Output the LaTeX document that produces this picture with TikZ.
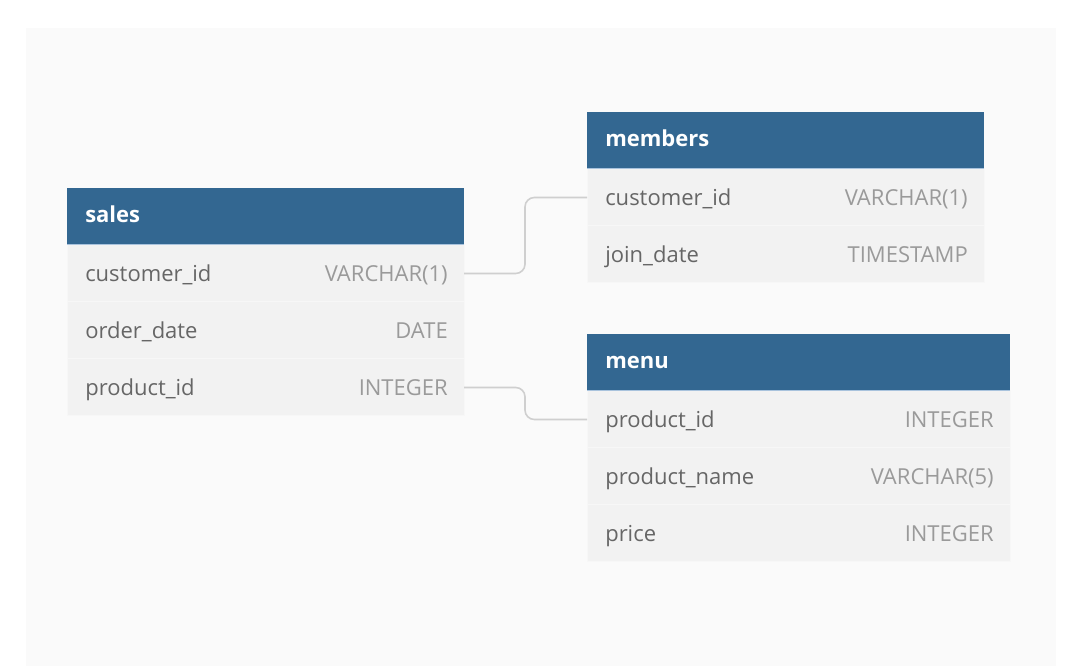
\documentclass[tikz,border=0pt]{standalone}
\usepackage{fontspec}
\setmainfont{Open Sans}
\usetikzlibrary{positioning}
\definecolor{cHead}{HTML}{336791}
\definecolor{cHeadLine}{HTML}{A9C3DD}
\definecolor{cRow}{HTML}{F2F2F2}
\definecolor{cRowLine}{HTML}{F7F7F7}
\definecolor{cCanvas}{HTML}{FAFAFA}
\definecolor{cName}{HTML}{666666}
\definecolor{cType}{HTML}{9A9A9A}
\definecolor{cLink}{HTML}{CFCFCF}

\begin{document}
\begin{tikzpicture}[
  x=0.75pt, y=-0.75pt,
  font=\fontsize{16.5}{20}\selectfont,
  thead/.style={fill=cHead, minimum width=#1, minimum height=42.75pt,
                inner sep=0pt, outer sep=0pt, anchor=north west},
  trow/.style={fill=cRow, draw=cRowLine, line width=0.75pt,
               minimum width=#1, minimum height=42.75pt,
               inner sep=0pt, outer sep=0pt},
  tname/.style={anchor=mid west, xshift=13.5pt, yshift=-1.8pt,
                inner sep=0pt, text=white,
                font=\fontsize{16.5}{20}\selectfont\bfseries},
  fname/.style={anchor=base west, xshift=13.5pt, yshift=-6.2pt,
                inner sep=0pt, text=cName},
  ftype/.style={anchor=base east, xshift=-12pt, yshift=-6.2pt,
                inner sep=0pt, text=cType},
  hline/.style={draw=cHeadLine, line width=0.75pt},
  link/.style={draw=cLink, line width=1.2pt, rounded corners=7pt},
]

% ---- Canvas ----
\useasboundingbox (0,0) rectangle (1079,666);
\fill[cCanvas] (26,28) rectangle (1056,666);

% ---- sales ----
\node[thead=297.75pt] (sales) at (67,188) {};
\node[tname] at (sales.west) {sales};
\node[trow=297.75pt, below=0pt of sales] (sales1) {};
\node[trow=297.75pt, below=0pt of sales1] (sales2) {};
\node[trow=297.75pt, below=0pt of sales2] (sales3) {};
\draw[hline] (sales.south west) -- (sales.south east);

\node[fname] at (sales1.west) {customer\_id};
\node[ftype] at (sales1.east) {VARCHAR(1)};
\node[fname] at (sales2.west) {order\_date};
\node[ftype] at (sales2.east) {DATE};
\node[fname] at (sales3.west) {product\_id};
\node[ftype] at (sales3.east) {INTEGER};

% ---- members ----
\node[thead=297.75pt] (members) at (587,112) {};
\node[tname] at (members.west) {members};
\node[trow=297.75pt, below=0pt of members] (members1) {};
\node[trow=297.75pt, below=0pt of members1] (members2) {};
\draw[hline] (members.south west) -- (members.south east);

\node[fname] at (members1.west) {customer\_id};
\node[ftype] at (members1.east) {VARCHAR(1)};
\node[fname] at (members2.west) {join\_date};
\node[ftype] at (members2.east) {TIMESTAMP};

% ---- menu ----
\node[thead=317.25pt] (menu) at (587,334) {};
\node[tname] at (menu.west) {menu};
\node[trow=317.25pt, below=0pt of menu] (menu1) {};
\node[trow=317.25pt, below=0pt of menu1] (menu2) {};
\node[trow=317.25pt, below=0pt of menu2] (menu3) {};
\draw[hline] (menu.south west) -- (menu.south east);

\node[fname] at (menu1.west) {product\_id};
\node[ftype] at (menu1.east) {INTEGER};
\node[fname] at (menu2.west) {product\_name};
\node[ftype] at (menu2.east) {VARCHAR(5)};
\node[fname] at (menu3.west) {price};
\node[ftype] at (menu3.east) {INTEGER};

% ---- Links ----
\draw[link] (sales1.east) -- ++(61,0) |- (members1.west);
\draw[link] (sales3.east) -- ++(61,0) |- (menu1.west);

\end{tikzpicture}
\end{document}
